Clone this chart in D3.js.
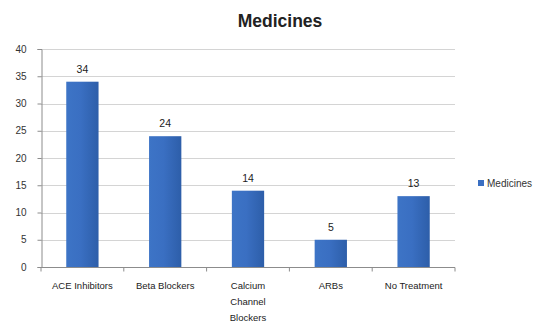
<!DOCTYPE html>
<html>
<head>
<meta charset="utf-8">
<script src="https://cdn.jsdelivr.net/npm/d3@7"></script>
<style>
  html, body { margin: 0; padding: 0; background: #fff; }
  svg { display: block; }
</style>
</head>
<body>
<svg id="chart" width="540" height="327"></svg>
<script>
// Data
const categories = ["ACE Inhibitors", "Beta Blockers", "Calcium Channel Blockers", "ARBs", "No Treatment"];
const categoryLines = [["ACE Inhibitors"], ["Beta Blockers"], ["Calcium", "Channel", "Blockers"], ["ARBs"], ["No Treatment"]];
const values = [34, 24, 14, 5, 13];
const yTicks = [0, 5, 10, 15, 20, 25, 30, 35, 40];
const seriesName = "Medicines";
const chartTitle = "Medicines";

const svg = d3.select("#chart");
const font = "'Liberation Sans', Arial, sans-serif";

const plot = { left: 41, right: 455, top: 49, bottom: 267 };

const x = d3.scaleBand().domain(categories).range([plot.left, plot.right]).paddingInner(0.61).paddingOuter(0.305);
const y = d3.scaleLinear().domain([0, 40]).range([plot.bottom, plot.top]);

// Bar fill gradient
const defs = svg.append("defs");
const grad = defs.append("linearGradient").attr("id", "barGrad").attr("x1", 0).attr("x2", 1).attr("y1", 0).attr("y2", 0);
grad.append("stop").attr("offset", "0%").attr("stop-color", "#3d74c6");
grad.append("stop").attr("offset", "45%").attr("stop-color", "#3a6fc2");
grad.append("stop").attr("offset", "100%").attr("stop-color", "#2d5ea9");

// Title
svg.append("text")
  .attr("x", 280).attr("y", 27)
  .attr("text-anchor", "middle")
  .attr("font-family", font)
  .attr("font-weight", "bold")
  .attr("font-size", 17.5)
  .attr("fill", "#222")
  .text(chartTitle);

// Gridlines
svg.append("g")
  .selectAll("line")
  .data(yTicks.filter(d => d > 0))
  .join("line")
  .attr("x1", plot.left).attr("x2", plot.right)
  .attr("y1", d => Math.round(y(d)) + 0.5).attr("y2", d => Math.round(y(d)) + 0.5)
  .attr("stroke", "#d4d4d4").attr("stroke-width", 1);

// Y axis
const yAxis = d3.axisLeft(y).tickValues(yTicks).tickSize(4).tickPadding(11).tickFormat(d3.format("d"));
const gy = svg.append("g").attr("transform", `translate(${plot.left + 0.5},0)`).call(yAxis);
gy.select(".domain").attr("stroke", "#8c8c8c");
gy.selectAll(".tick line").attr("stroke", "#8c8c8c").attr("x2", 0).attr("x1", -4);
gy.selectAll(".tick text").attr("font-family", font).attr("font-size", 10).attr("fill", "#333");

// X axis
const gx = svg.append("g").attr("transform", `translate(0,${plot.bottom + 0.5})`);
gx.append("line").attr("x1", plot.left).attr("x2", plot.right).attr("stroke", "#8c8c8c");
const boundaries = d3.range(categories.length + 1).map(i => plot.left + (plot.right - plot.left) * i / categories.length);
gx.selectAll("line.tk").data(boundaries).join("line").attr("class", "tk")
  .attr("x1", d => d).attr("x2", d => d).attr("y1", 0).attr("y2", 4).attr("stroke", "#8c8c8c");

// Category labels
const labels = svg.append("g");
categories.forEach((c, i) => {
  const cx = x(c) + x.bandwidth() / 2;
  const t = labels.append("text")
    .attr("text-anchor", "middle")
    .attr("font-family", font)
    .attr("font-size", 9.5)
    .attr("fill", "#222");
  categoryLines[i].forEach((line, j) => {
    t.append("tspan").attr("x", cx).attr("y", 289 + j * 16).text(line);
  });
});

// Bars
svg.append("g")
  .selectAll("rect")
  .data(values)
  .join("rect")
  .attr("x", (d, i) => x(categories[i]))
  .attr("width", x.bandwidth())
  .attr("y", d => y(d))
  .attr("height", d => y(0) - y(d))
  .attr("fill", "url(#barGrad)");

// Value labels
svg.append("g")
  .selectAll("text")
  .data(values)
  .join("text")
  .attr("x", (d, i) => x(categories[i]) + x.bandwidth() / 2)
  .attr("y", d => y(d) - 9)
  .attr("text-anchor", "middle")
  .attr("font-family", font)
  .attr("font-size", 10.5)
  .attr("fill", "#222")
  .text(d => d);

// Legend
const lg = svg.append("g").attr("transform", "translate(478,180)");
lg.append("rect").attr("width", 6).attr("height", 6).attr("fill", "#3a6fc2");
lg.append("text").attr("x", 9).attr("y", 6.5)
  .attr("font-family", font).attr("font-size", 10).attr("fill", "#333")
  .text(seriesName);
</script>
</body>
</html>
